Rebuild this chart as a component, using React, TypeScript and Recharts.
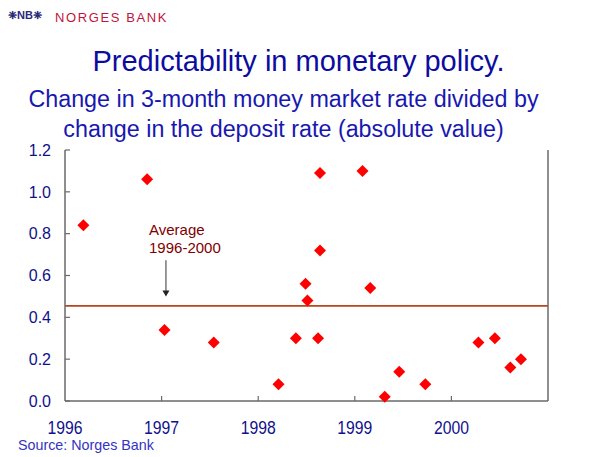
import { ScatterChart, Scatter, XAxis, YAxis, ReferenceLine, ReferenceDot } from "recharts"

// time (decimal year) of each interest rate decision
const dates = [
  1996.19, 1996.85, 1997.03, 1997.54, 1998.21, 1998.39, 1998.49, 1998.51, 1998.62, 1998.64,
  1998.64, 1999.08, 1999.16, 1999.31, 1999.46, 1999.73, 2000.28, 2000.45, 2000.61, 2000.72,
]
// |change in 3-month rate| / |change in deposit rate|
const ratios = [
  0.84, 1.06, 0.34, 0.28, 0.08, 0.3, 0.56, 0.48, 0.3, 1.09,
  0.72, 1.1, 0.54, 0.02, 0.14, 0.08, 0.28, 0.3, 0.16, 0.2,
]
const average = 0.455
const yearTicks = [1996, 1997, 1998, 1999, 2000]
const valueTicks = [0, 0.2, 0.4, 0.6, 0.8, 1.0, 1.2]

const points = dates.map((d, i) => ({ x: d, y: ratios[i] }))

const FONT = "'Liberation Sans', Arial, sans-serif"
const NAVY = "#10108c"
const AXIS = "#6a6a6a"

const Diamond = (props: any) => {
  const { cx, cy } = props
  const r = 6
  return (
    <polygon
      points={`${cx},${cy - r} ${cx + r},${cy} ${cx},${cy + r} ${cx - r},${cy}`}
      fill="#ff0000"
    />
  )
}

const LeftTick = (props: any) => {
  const { x, y, payload } = props
  return (
    <g>
      <line x1={x} x2={x + 5} y1={y} y2={y} stroke={AXIS} strokeWidth={1.2} />
      <text x={x - 14} y={y} dy="0.36em" textAnchor="end" fill={NAVY} fontSize={16} fontFamily={FONT}>
        {payload.value.toFixed(1)}
      </text>
    </g>
  )
}

const RightTick = (props: any) => {
  const { x, y, payload } = props
  return (
    <g>
      <line x1={x - 5} x2={x} y1={y} y2={y} stroke={AXIS} strokeWidth={1.2} />
      <text x={x + 13} y={y} dy="0.36em" textAnchor="start" fill={NAVY} fontSize={16} fontFamily={FONT}>
        {payload.value.toFixed(1)}
      </text>
    </g>
  )
}

// year labels in the original are narrow and tall
const YearTick = (props: any) => {
  const { x, y, payload } = props
  return (
    <g>
      {payload.value !== 1996 && <line x1={x} x2={x} y1={y - 5} y2={y} stroke={AXIS} strokeWidth={1.2} />}
      <text
        x={x - 17.5}
        y={y + 33}
        textLength={35}
        lengthAdjust="spacingAndGlyphs"
        fill={NAVY}
        fontSize={18.5}
        fontFamily={FONT}
      >
        {payload.value}
      </text>
    </g>
  )
}

const ArrowHead = (props: any) => {
  const { cx, cy } = props
  return <polygon points={`${cx - 3.5},${cy - 6} ${cx + 3.5},${cy - 6} ${cx},${cy}`} fill="#222" />
}

const AverageLabel = (props: any) => {
  const { cx, cy } = props
  return (
    <text x={cx} y={cy} fill="#800000" fontSize={15} fontFamily={FONT}>
      <tspan x={cx}>Average</tspan>
      <tspan x={cx} dy={18}>1996-2000</tspan>
    </text>
  )
}

export default function App() {
  return (
    <div style={{ position: "absolute", left: 0, top: 0, width: 591, height: 457, background: "#fff", fontFamily: FONT }}>
      <div style={{ position: "absolute", left: 8, top: 9, fontSize: 11, fontWeight: "bold", color: "#2a2a78", lineHeight: "13px" }}>
        ❈NB❈
      </div>
      <div style={{ position: "absolute", left: 55, top: 10, fontSize: 13, letterSpacing: 1.6, color: "#c0143c", lineHeight: "15px" }}>
        NORGES BANK
      </div>
      <div style={{ position: "absolute", left: 0, width: 597, top: 45, textAlign: "center", fontSize: 29, color: "#0c0ca0", lineHeight: "32px" }}>
        Predictability in monetary policy.
      </div>
      <div style={{ position: "absolute", left: 0, width: 567, top: 84, textAlign: "center", fontSize: 23.3, color: "#1818b0", lineHeight: "30px" }}>
        Change in 3-month money market rate divided by
        <br />
        change in the deposit rate (absolute value)
      </div>
      <div style={{ position: "absolute", left: 18, top: 437, fontSize: 14.3, color: "#3434c0", lineHeight: "16px" }}>
        Source: Norges Bank
      </div>
      <div style={{ position: "absolute", left: 0, top: 0 }}>
        <ScatterChart width={591} height={457} margin={{ top: 150, right: 0, bottom: 26, left: 0 }}>
          <XAxis
            type="number"
            dataKey="x"
            domain={[1996, 2001]}
            ticks={yearTicks}
            interval={0}
            height={30}
            tickSize={0}
            tickMargin={0}
            tickLine={false}
            tick={YearTick}
            axisLine={{ stroke: AXIS, strokeWidth: 1.5 }}
          />
          <YAxis
            yAxisId="left"
            type="number"
            dataKey="y"
            domain={[0, 1.2]}
            ticks={valueTicks}
            interval={0}
            width={65}
            tickSize={0}
            tickMargin={0}
            tickLine={false}
            tick={LeftTick}
            axisLine={{ stroke: AXIS, strokeWidth: 1.5 }}
          />
          <YAxis
            yAxisId="right"
            orientation="right"
            type="number"
            domain={[0, 1.2]}
            ticks={valueTicks}
            interval={0}
            width={43}
            tickSize={0}
            tickMargin={0}
            tickLine={false}
            tick={RightTick}
            axisLine={{ stroke: AXIS, strokeWidth: 1.5 }}
          />
          <ReferenceLine yAxisId="left" y={average} stroke="#b8461a" strokeWidth={1.8} />
          <ReferenceLine
            yAxisId="left"
            segment={[
              { x: 1997.045, y: 0.673 },
              { x: 1997.045, y: 0.51 },
            ]}
            stroke="#555"
            strokeWidth={1.2}
          />
          <ReferenceDot yAxisId="left" x={1997.045} y={0.5} shape={ArrowHead} />
          <ReferenceDot yAxisId="left" x={1996.87} y={0.793} shape={AverageLabel} />
          <Scatter yAxisId="left" data={points} shape={Diamond} isAnimationActive={false} />
        </ScatterChart>
      </div>
    </div>
  )
}
